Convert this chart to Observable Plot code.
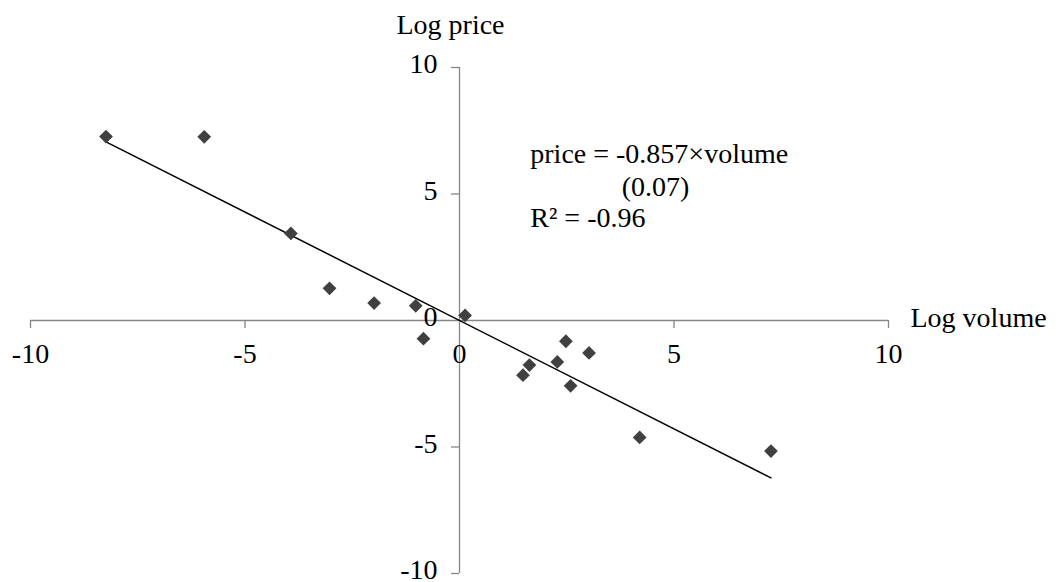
<!DOCTYPE html>
<html><head><meta charset="utf-8">
<script src="https://cdn.jsdelivr.net/npm/d3@7"></script>
<script src="https://cdn.jsdelivr.net/npm/@observablehq/plot@0.6"></script>
<style>body{margin:0;background:#fff}</style>
</head><body><div id="chart"></div>
<script>
const logVolume = [-8.24, -5.95, -3.93, -3.03, -1.99, -1.02, -0.84, 0.13, 1.48, 1.63, 2.28, 2.48, 2.59, 3.02, 4.20, 7.26];
const logPrice  = [ 7.27,  7.26,  3.44,  1.27,  0.69,  0.58, -0.72, 0.20, -2.16, -1.76, -1.64, -0.82, -2.58, -1.28, -4.62, -5.16];
const slope = -0.857;
const slopeSE = "0.07";
const rSquared = "-0.96";
const xTicks = [-10, -5, 0, 5, 10];
const yTicks = [-10, -5, 0, 5, 10];

const points = logVolume.map((v, i) => ({volume: v, price: logPrice[i]}));
const xMin = d3.min(logVolume), xMax = d3.max(logVolume);
const fit = [xMin, xMax].map(v => ({volume: v, price: slope * v}));

const axisColor = "#868686";
const font = "Liberation Serif";
const fs = 28;

const chart = Plot.plot({
  width: 1061,
  height: 582,
  marginLeft: 30,
  marginRight: 173,
  marginTop: 67,
  marginBottom: 9,
  style: {fontFamily: font, fontSize: fs + "px", background: "#fff", overflow: "visible"},
  x: {domain: [-10, 10], axis: null},
  y: {domain: [-10, 10], axis: null},
  marks: [
    Plot.ruleY([0], {x1: -10, x2: 10, stroke: axisColor, strokeWidth: 1.3}),
    Plot.ruleX([0], {y1: -10, y2: 10, stroke: axisColor, strokeWidth: 1.3}),
    Plot.ruleX(xTicks.filter(d => d !== 0), {x: d => d, y1: 0, y2: 0, insetBottom: -8, stroke: axisColor, strokeWidth: 1.3}),
    Plot.ruleY(yTicks.filter(d => d !== 0), {y: d => d, x1: 0, x2: 0, insetLeft: -8, stroke: axisColor, strokeWidth: 1.3}),
    Plot.text(xTicks, {x: d => d, y: 0, dy: 34, text: d => String(d), fill: "#000", fontSize: fs, fontFamily: font}),
    Plot.text(yTicks, {x: 0, y: d => d, dx: -22, dy: -3, text: d => String(d), textAnchor: "end", fill: "#000", fontSize: fs, fontFamily: font}),
    Plot.line(fit, {x: "volume", y: "price", stroke: "#000", strokeWidth: 1.5}),
    Plot.dot(points, {x: "volume", y: "price", symbol: "diamond2", r: 6.2, fill: "#404040", stroke: "none"}),
    Plot.text(["Log price"], {x: 0, y: 10, dx: -9, dy: -42, text: d => d, fill: "#000", fontSize: fs, fontFamily: font}),
    Plot.text(["Log volume"], {x: 10, y: 0, dx: 22, dy: -2, text: d => d, textAnchor: "start", fill: "#000", fontSize: fs, fontFamily: font}),
    Plot.text([`price = ${slope}×volume`], {x: 1.65, y: 6.21, text: d => d, textAnchor: "start", lineAnchor: "bottom", fill: "#000", fontSize: fs, fontFamily: font}),
    Plot.text([`(${slopeSE})`], {x: 3.78, y: 4.94, text: d => d, textAnchor: "start", lineAnchor: "bottom", fill: "#000", fontSize: fs, fontFamily: font}),
    Plot.text([`R² = ${rSquared}`], {x: 1.65, y: 3.68, text: d => d, textAnchor: "start", lineAnchor: "bottom", fill: "#000", fontSize: fs, fontFamily: font})
  ]
});
document.getElementById("chart").appendChild(chart);
</script>
</body></html>
